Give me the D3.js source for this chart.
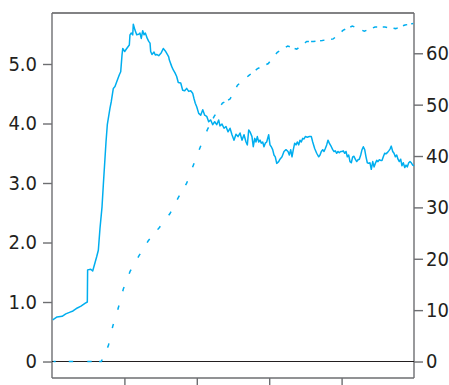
<!DOCTYPE html>
<html>
<head>
<meta charset="utf-8">
<script src="https://cdn.jsdelivr.net/npm/d3@7"></script>
<style>
  body { margin: 0; background: #fff; }
  svg { display: block; }
  .axis text { font-family: "DejaVu Sans Condensed", "DejaVu Sans", sans-serif; font-stretch: condensed; font-size: 20px; fill: #231f20; }
  .axis path, .axis line { stroke: #6d6e71; stroke-width: 1.4; }
</style>
</head>
<body>
<svg id="chart" width="449" height="385"></svg>
<script>
// solid trace (left axis)
const concTime = [
  0.1, 0.7, 1.4, 1.9, 2.5, 2.9, 3.5, 4.0, 4.6, 4.88, 4.92, 5.35, 5.62, 5.94, 6.17, 6.40,
  6.63, 6.91, 7.09, 7.32, 7.46, 7.64, 8.01, 8.19, 8.47, 8.70, 8.94, 9.30, 9.49, 9.67, 9.77, 10.04, 10.32, 10.68, 10.77, 10.95,
  11.15, 11.23, 11.46, 11.70, 11.98, 12.15, 12.33, 12.53, 12.71, 12.89, 13.16, 13.36, 13.54, 13.63, 13.81, 14.09, 14.27, 14.46, 14.74, 15.10,
  15.37, 15.65, 15.93, 16.12,
  16.20, 16.53, 16.75, 16.99, 17.22, 17.44, 17.78, 18.05, 18.33, 18.60, 18.88, 19.16, 19.43, 19.61, 19.79, 19.99, 20.26, 20.54, 20.82, 21.09,
  21.37, 21.64, 21.92, 22.20, 22.47, 22.75, 23.02, 23.20, 23.48, 23.76, 24.03, 24.31, 24.59, 24.86, 25.14, 25.41, 25.69, 25.97, 26.24, 26.52,
  26.80, 26.98, 27.17,
  27.35, 27.62, 27.80, 28.00, 28.18, 28.36, 28.55, 28.73, 28.91, 29.10, 29.28, 29.46, 29.65, 29.93, 30.11, 30.29, 30.48, 30.66, 30.84, 31.04,
  31.31, 31.49, 31.77, 32.04, 32.32, 32.60, 32.78, 32.97, 33.15, 33.33, 33.52, 33.70, 33.88, 34.08, 34.25, 34.43, 34.63, 34.81, 34.99, 35.26,
  35.54, 35.82, 36.01, 36.28, 36.56, 36.84, 37.02, 37.20, 37.39, 37.57, 37.75, 37.94, 38.12, 38.30,
  38.58, 38.77, 38.95, 39.13, 39.32, 39.50, 39.68, 39.88, 40.06, 40.23, 40.43, 40.61, 40.79, 40.98, 41.16, 41.34, 41.53, 41.71, 41.89, 42.09,
  42.27, 42.45, 42.64, 42.82, 43.00, 43.19, 43.37, 43.55, 43.74, 43.92, 44.10, 44.30, 44.48, 44.66, 44.85, 45.03, 45.21, 45.40, 45.58, 45.76,
  45.95, 46.13, 46.31, 46.51, 46.69, 46.86, 47.06, 47.24, 47.42, 47.61, 47.79, 47.97, 48.16, 48.34, 48.52, 48.72, 48.90, 49.07, 49.27, 49.45,
  49.63, 49.82, 50.00
];
const concValue = [
  0.70, 0.75, 0.76, 0.80, 0.83, 0.85, 0.90, 0.93, 0.98, 1.00, 1.54, 1.55, 1.52, 1.66, 1.76, 1.87,
  2.24, 2.60, 2.97, 3.42, 3.69, 3.98, 4.26, 4.37, 4.59, 4.62, 4.70, 4.82, 4.87, 5.15, 5.26, 5.21, 5.26, 5.32, 5.49, 5.52,
  5.49, 5.67, 5.57, 5.49, 5.50, 5.52, 5.43, 5.56, 5.49, 5.52, 5.43, 5.38, 5.35, 5.21, 5.16, 5.20, 5.15, 5.16, 5.14, 5.19,
  5.26, 5.22, 5.16, 5.12,
  5.07, 4.96, 4.90, 4.85, 4.79, 4.69, 4.68, 4.56, 4.55, 4.59, 4.54, 4.55, 4.51, 4.42, 4.34, 4.28, 4.17, 4.14, 4.23, 4.14,
  4.12, 4.03, 4.06, 3.98, 4.03, 3.98, 4.06, 3.96, 3.99, 3.92, 3.95, 3.86, 3.92, 3.81, 3.72, 3.82, 3.78, 3.84, 3.72, 3.81,
  3.69, 3.64, 3.89,
  3.86, 3.78, 3.61, 3.75, 3.69, 3.78, 3.69, 3.72, 3.67, 3.69, 3.61, 3.67, 3.69, 3.81, 3.64, 3.61, 3.56, 3.47, 3.44, 3.33,
  3.36, 3.40, 3.44, 3.53, 3.56, 3.53, 3.47, 3.56, 3.44, 3.56, 3.67, 3.64, 3.69, 3.64, 3.72, 3.69, 3.75, 3.74, 3.78, 3.77,
  3.78, 3.78, 3.69, 3.58, 3.50, 3.44, 3.47, 3.53, 3.56, 3.53, 3.58, 3.64, 3.72, 3.67,
  3.61, 3.56, 3.53, 3.54, 3.50, 3.53, 3.51, 3.53, 3.53, 3.54, 3.50, 3.53, 3.44, 3.47, 3.36, 3.34, 3.44, 3.45, 3.40, 3.36,
  3.39, 3.40, 3.47, 3.56, 3.61, 3.56, 3.44, 3.34, 3.33, 3.34, 3.23, 3.36, 3.27, 3.33, 3.38, 3.36, 3.39, 3.38, 3.38, 3.44,
  3.50, 3.49, 3.51, 3.54, 3.57, 3.62, 3.53, 3.50, 3.44, 3.47, 3.40, 3.36, 3.40, 3.29, 3.34, 3.26, 3.30, 3.27, 3.34, 3.36,
  3.34, 3.30, 3.29
];

// dashed trace (right axis), one value per visible dash
const cumTime = [
  0.21, 2.62, 5.18, 6.81, 7.79, 8.40, 9.17, 9.85, 10.77, 12.02, 13.30, 14.78, 16.30, 17.44, 18.60, 19.52, 20.44, 21.48, 22.40, 23.54,
  24.59, 25.62, 27.21, 28.38, 29.88, 31.12, 32.56, 33.80, 35.18, 36.09, 37.33, 38.85, 40.23, 41.48, 43.14, 44.61, 45.99, 47.47, 48.76, 49.9
];
const cumValue = [
  0, 0, 0, 0, 3.1, 6.9, 10.5, 14.1, 17.5, 20.6, 23.5, 26.0, 28.8, 31.9, 34.7, 38.2, 41.6, 45.2, 47.7, 50.3,
  51.1, 53.8, 55.7, 57.0, 58.0, 60.2, 61.4, 60.8, 62.3, 62.3, 62.5, 62.8, 64.5, 65.3, 64.3, 65.1, 65.1, 64.8, 65.5, 65.8
];

const xTicks = [10, 20, 30, 40];
const leftTicks = [0, 1, 2, 3, 4, 5];
const rightTicks = [0, 10, 20, 30, 40, 50, 60];

const margin = { top: 13, right: 35, bottom: 7, left: 52 };
const width = 449 - margin.left - margin.right;
const height = 385 - margin.top - margin.bottom;
const lineColor = '#00aeef';

const svg = d3.select('#chart');
const g = svg.append('g').attr('transform', `translate(${margin.left},${margin.top})`);

const x = d3.scaleLinear().domain([0, 50]).range([0, width]);
const yLeft = d3.scaleLinear().domain([-0.277, 5.857]).range([height, 0]);
const yRight = d3.scaleLinear().domain([-3.21, 67.84]).range([height, 0]);

// frame: top border
g.append('line')
  .attr('x1', 0).attr('x2', width)
  .attr('y1', 0).attr('y2', 0)
  .attr('stroke', '#58595b').attr('stroke-width', 1.4);

g.append('g')
  .attr('class', 'axis')
  .call(d3.axisLeft(yLeft).tickValues(leftTicks).tickSize(9).tickPadding(6)
    .tickFormat((d) => d === 0 ? '0' : d.toFixed(1)))
  .call((a) => a.select('.domain').attr('d', `M0,0V${height}`));

g.append('g')
  .attr('class', 'axis')
  .attr('transform', `translate(${width},0)`)
  .call(d3.axisRight(yRight).tickValues(rightTicks).tickSize(9).tickPadding(3))
  .call((a) => a.select('.domain').attr('d', `M0,0V${height}`));

g.append('g')
  .attr('class', 'axis')
  .attr('transform', `translate(0,${height})`)
  .call(d3.axisBottom(x).tickValues(xTicks).tickSize(9).tickFormat(''))
  .call((a) => a.select('.domain').attr('d', `M0,0H${width}`))
  .call((a) => a.selectAll('.tick line').attr('stroke', '#231f20'));

// zero line
g.append('line')
  .attr('x1', 0).attr('x2', width)
  .attr('y1', yLeft(0)).attr('y2', yLeft(0))
  .attr('stroke', '#231f20').attr('stroke-width', 1.1);

const conc = concTime.map((t, i) => ({ t, v: concValue[i] }));
const cum = cumTime.map((t, i) => ({ t, v: cumValue[i] }));

g.append('path')
  .datum(conc)
  .attr('fill', 'none')
  .attr('stroke', lineColor)
  .attr('stroke-width', 1.5)
  .attr('stroke-linejoin', 'round')
  .attr('d', d3.line().x((d) => x(d.t)).y((d) => yLeft(d.v)));

// dashes centred on each reading of the dashed trace
const pts = cum.map((d) => [x(d.t), yRight(d.v)]);
const half = 2.2;
let lengths = [0];
for (let i = 1; i < pts.length; i++) {
  const dx = pts[i][0] - pts[i - 1][0], dy = pts[i][1] - pts[i - 1][1];
  lengths.push(lengths[i - 1] + Math.sqrt(dx * dx + dy * dy));
}
const dashes = [];
for (let i = 0; i < lengths.length; i++) {
  dashes.push(half * 2);
  const next = i + 1 < lengths.length ? lengths[i + 1] - lengths[i] - half * 2 : 1000;
  dashes.push(Math.max(next, 0.5));
}

g.append('path')
  .datum(cum)
  .attr('fill', 'none')
  .attr('stroke', lineColor)
  .attr('stroke-width', 1.5)
  .attr('stroke-dasharray', dashes.join(','))
  .attr('stroke-dashoffset', half)
  .attr('d', d3.line().x((d) => x(d.t)).y((d) => yRight(d.v)));
</script>
</body>
</html>
